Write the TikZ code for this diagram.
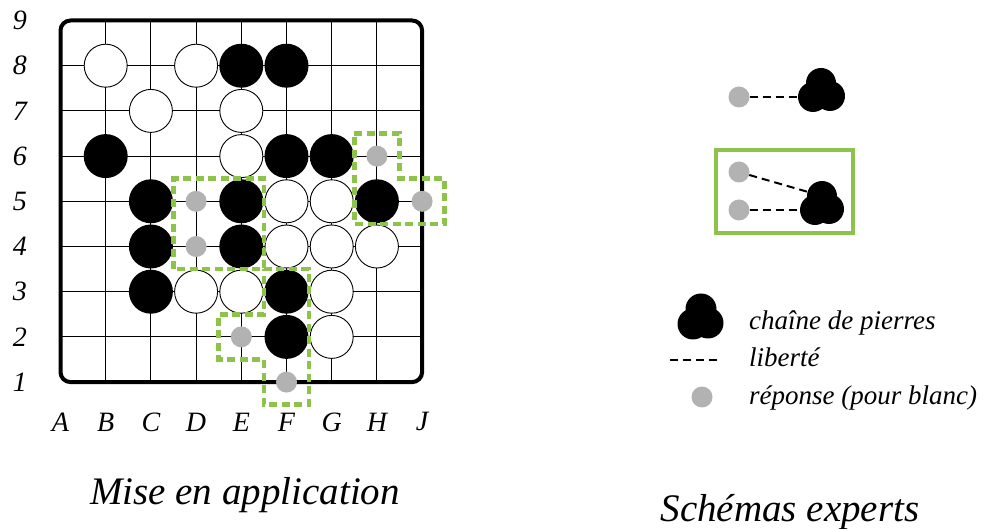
\documentclass[tikz,border=0pt]{standalone}
\usepackage{fontspec}
\setmainfont{Liberation Serif}
\definecolor{libgreen}{RGB}{141,194,75}
\definecolor{respgray}{RGB}{178,178,178}
\tikzset{
 wst/.style={circle, draw=black, line width=0.9pt, fill=white, minimum size=43pt, inner sep=0pt},
 bst/.style={circle, fill=black, minimum size=44pt, inner sep=0pt},
 gst/.style={circle, fill=respgray, minimum size=21pt, inner sep=0pt},
 chainc/.style={circle, fill=black, minimum size=30pt, inner sep=0pt},
 legchain/.style={circle, fill=black, minimum size=31pt, inner sep=0pt},
 zone/.style={draw=libgreen, line width=4.6pt, dash pattern=on 8pt off 4.5pt},
 libline/.style={draw=black, line width=2pt, dash pattern=on 8pt off 5pt},
 gridline/.style={draw=black, line width=1.1pt},
 axlab/.style={font=\fontsize{28}{30}\selectfont\itshape, inner sep=0pt},
 legtxt/.style={font=\fontsize{27}{30}\selectfont\itshape, anchor=base west, inner sep=0pt},
 ttl/.style={font=\fontsize{39}{42}\selectfont\itshape, inner sep=0pt},
}
\begin{document}
\begin{tikzpicture}[x=1pt,y=-1pt]
\useasboundingbox (0,0) rectangle (986,529);
\begin{scope}[shift={(60.5,382.1)}, x=45.2pt, y=45.2pt]
 \foreach \i in {1,...,7} {
   \draw[gridline] (\i,0) -- (\i,8);
   \draw[gridline] (0,\i) -- (8,\i);
 }
 \draw[line width=4pt, rounded corners=10pt] (0,0) rectangle (8,8);
 % row 8
 \node[wst] (B8) at (1,7) {};
 \node[wst] (D8) at (3,7) {};
 \node[bst] (E8) at (4,7) {};
 \node[bst] (F8) at (5,7) {};
 % row 7
 \node[wst] (C7) at (2,6) {};
 \node[wst] (E7) at (4,6) {};
 % row 6
 \node[bst] (B6) at (1,5) {};
 \node[wst] (E6) at (4,5) {};
 \node[bst] (F6) at (5,5) {};
 \node[bst] (G6) at (6,5) {};
 \node[gst] (H6) at (7,5) {};
 % row 5
 \node[bst] (C5) at (2,4) {};
 \node[gst] (D5) at (3,4) {};
 \node[bst] (E5) at (4,4) {};
 \node[wst] (F5) at (5,4) {};
 \node[wst] (G5) at (6,4) {};
 \node[bst] (H5) at (7,4) {};
 \node[gst] (J5) at (8,4) {};
 % row 4
 \node[bst] (C4) at (2,3) {};
 \node[gst] (D4) at (3,3) {};
 \node[bst] (E4) at (4,3) {};
 \node[wst] (F4) at (5,3) {};
 \node[wst] (G4) at (6,3) {};
 \node[wst] (H4) at (7,3) {};
 % row 3
 \node[bst] (C3) at (2,2) {};
 \node[wst] (D3) at (3,2) {};
 \node[wst] (E3) at (4,2) {};
 \node[bst] (F3) at (5,2) {};
 \node[wst] (G3) at (6,2) {};
 % row 2
 \node[gst] (E2) at (4,1) {};
 \node[bst] (F2) at (5,1) {};
 \node[wst] (G2) at (6,1) {};
 % row 1
 \node[gst] (F1) at (5,0) {};
 % zones
 \draw[zone] (2.5,2.5) rectangle (4.5,4.5);
 \draw[zone] (4.5,2.5) -- (5.5,2.5) -- (5.5,-0.5) -- (4.5,-0.5) -- (4.5,0.5) -- (3.5,0.5) -- (3.5,1.5) -- (4.5,1.5) -- cycle;
 \draw[zone] (6.5,5.5) -- (7.5,5.5) -- (7.5,4.5) -- (8.5,4.5) -- (8.5,3.5) -- (6.5,3.5) -- cycle;
 % labels
 \foreach \l [count=\i from 0] in {A,B,C,D,E,F,G,H,J}
   \node[axlab] (col\l) at (\i,-0.88) {\l};
 \foreach \r in {1,...,9}
   \node[axlab] (row\r) at (-0.9,\r-1) {\r};
\end{scope}
% expert schemas
\node[gst] (g1) at (739,97) {};
\node[chainc] (k1t) at (821,83) {};
\node[chainc] (k1l) at (813,97) {};
\node[chainc] (k1r) at (830,96) {};
\draw[libline] (g1) -- (k1l);
\node[draw=libgreen, line width=4pt, minimum width=137pt, minimum height=83pt, inner sep=0pt] (grp) at (784.5,191.5) {};
\node[gst] (g2) at (739,172) {};
\node[gst] (g3) at (739,210) {};
\node[chainc] (k2t) at (822,196) {};
\node[chainc] (k2l) at (815,210) {};
\node[chainc] (k2r) at (829,209) {};
\draw[libline] (g2) -- (k2t);
\draw[libline] (g3) -- (k2l);
% legend
\node[legchain] (lt) at (701,309) {};
\node[legchain] (ll) at (693,324) {};
\node[legchain] (lr) at (708,323) {};
\node[legtxt] (t1) at (749,330) {chaîne de pierres};
\coordinate (l1) at (670,360);
\coordinate (l2) at (718,360);
\draw[libline] (l1) -- (l2);
\node[legtxt] (t2) at (749,367) {liberté};
\node[gst] (g4) at (702,397) {};
\node[legtxt] (t3) at (749,405) {réponse (pour blanc)};
% titles
\node[ttl] (ti1) at (245,495) {Mise en application};
\node[ttl] (ti2) at (790,512) {Schémas experts};
\end{tikzpicture}
\end{document}
